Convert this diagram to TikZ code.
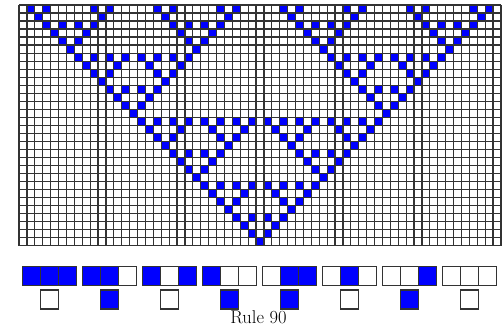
\documentclass[tikz,border=0pt]{standalone}
\begin{document}
\begin{tikzpicture}[x=1pt,y=-1pt,
  gridline/.style={draw=black!80,line width=1.2pt},
  oncell/.style={fill=blue},
  legcell/.style={draw=black!80,line width=1.3pt},
  caption/.style={font=\fontsize{18.5}{20}\selectfont,inner sep=0pt,anchor=base}]
\useasboundingbox (0,0) rectangle (504,328);
% automaton grid
\begin{scope}[shift={(19pt,-5pt)},x=7.9pt,y=-8.02pt]
  \foreach \t in {0,...,29} {
    \foreach \k in {0,...,\t} {
      \pgfmathtruncatemacro\odd{(mod(\k,2)<=mod(\t,2)) && (mod(floor(\k/2),2)<=mod(floor(\t/2),2)) && (mod(floor(\k/4),2)<=mod(floor(\t/4),2)) && (mod(floor(\k/8),2)<=mod(floor(\t/8),2)) && (mod(floor(\k/16),2)<=mod(floor(\t/16),2))}
      \ifnum\odd=1
        \pgfmathtruncatemacro\col{30-\t+2*\k}
        \pgfmathtruncatemacro\row{29-\t}
        \fill[oncell] (\col,\row) rectangle ++(1,1);
      \fi
    }
  }
  \foreach \c in {0,...,61} \draw[gridline] (\c,0) -- (\c,30);
  \foreach \r in {0,...,30} \draw[gridline] (0,\r) -- (61,\r);
\end{scope}
% rule legend
\foreach \i in {0,...,7} {
  \pgfmathsetmacro\xo{22.7+60*\i}
  \pgfmathtruncatemacro\v{7-\i}
  \foreach \j in {0,1,2} {
    \pgfmathtruncatemacro\b{mod(floor(\v/(2^(2-\j))),2)}
    \ifnum\b=1 \def\fc{blue}\else\def\fc{white}\fi
    \path[legcell,fill=\fc] (\xo+18*\j,266.7) rectangle ++(18,19);
  }
  \pgfmathtruncatemacro\r{mod(floor(90/(2^\v)),2)}
  \ifnum\r=1 \def\fc{blue}\else\def\fc{white}\fi
  \path[legcell,fill=\fc] (\xo+18,290) rectangle ++(18,19);
}
\node[caption] (title) at (258.5,323.3) {Rule 90};
\end{tikzpicture}
\end{document}
